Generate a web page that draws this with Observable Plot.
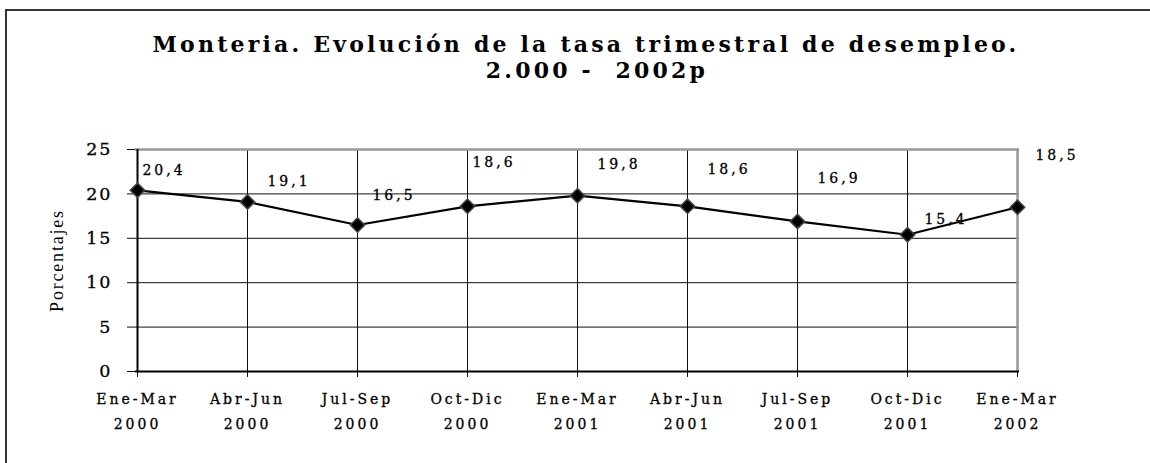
<!DOCTYPE html>
<html>
<head>
<meta charset="utf-8">
<script src="https://cdn.jsdelivr.net/npm/d3@7"></script>
<script src="https://cdn.jsdelivr.net/npm/@observablehq/plot@0.6"></script>
<style>
  html, body { margin: 0; padding: 0; background: #fff; width: 1150px; height: 463px; overflow: hidden; }
  #frame { position: absolute; left: 5px; top: 9px; width: 2000px; height: 1000px; border-top: 2px solid #333; border-left: 2px solid #333; }
  #title { position: absolute; left: 0; top: 31px; width: 1172px; text-align: center; font-family: "DejaVu Serif", serif; font-weight: bold; font-size: 22px; letter-spacing: 3.2px; line-height: 26px; color: #000; }
  #title .l2 { position: relative; left: 11px; }
  #chart { position: absolute; left: 0; top: 100px; }
  #chart svg text { letter-spacing: 3px; stroke: #000; stroke-width: 0.3px; }
  #chart svg g[aria-label="y-axis tick label"] text { letter-spacing: 2px; }
</style>
</head>
<body>
<div id="frame"></div>
<div id="title">Monteria. Evolución de la tasa trimestral de desempleo.<br><span class="l2">2.000 -&nbsp; 2002p</span></div>
<div id="chart"></div>
<script>
// Data
const quarters = ["Ene-Mar", "Abr-Jun", "Jul-Sep", "Oct-Dic", "Ene-Mar", "Abr-Jun", "Jul-Sep", "Oct-Dic", "Ene-Mar"];
const years = ["2000", "2000", "2000", "2000", "2001", "2001", "2001", "2001", "2002"];
const rates = [20.4, 19.1, 16.5, 18.6, 19.8, 18.6, 16.9, 15.4, 18.5];
const yTicks = [0, 5, 10, 15, 20, 25];

const categories = quarters.map((q, i) => q + "\n" + years[i]);
const data = categories.map((c, i) => ({cat: c, value: rates[i], label: String(rates[i]).replace(".", ",")}));

// label placement relative to each marker (pixels)
const labelOffsets = [[25, -20], [40, -20], [35, -29], [25, -44], [40, -31], [40, -37], [40, -43], [37, -15], [38, -52]];

const serif = "DejaVu Serif, serif";

const labelMarks = data.map((d, i) => Plot.text([d], {
  x: "cat", y: "value", text: "label",
  dx: labelOffsets[i][0] + 1.5, dy: labelOffsets[i][1],
  fontSize: 14, fontFamily: serif, fill: "#000"
}));

const chart = Plot.plot({
  width: 1150,
  height: 363,
  marginLeft: 135,
  marginRight: 131,
  marginTop: 49,
  marginBottom: 92,
  style: {background: "transparent", color: "#000", fontFamily: serif},
  x: {type: "point", domain: categories, padding: 0},
  y: {domain: [0, 25]},
  marks: [
    // horizontal gridlines
    Plot.ruleY([5, 10, 15, 20], {stroke: "#111", strokeWidth: 1}),
    // vertical gridlines
    Plot.ruleX(categories.slice(1, -1), {y1: 0, y2: 25, stroke: "#111", strokeWidth: 1}),
    // top & right plot-area border
    Plot.ruleY([25], {stroke: "#999", strokeWidth: 2.5}),
    Plot.ruleX(categories.slice(-1), {y1: 0, y2: 25, stroke: "#999", strokeWidth: 2.5}),
    // axes
    Plot.axisY({ticks: yTicks, tickSize: 8, tickPadding: 15, fontSize: 17.5, tickFormat: d => String(d), label: null, stroke: "#111"}),
    Plot.axisX({tickSize: 6, tickPadding: 9, fontSize: 14, lineHeight: 1.78, label: null, stroke: "#111"}),
    Plot.ruleX(categories.slice(0, 1), {y1: 0, y2: 25, stroke: "#000", strokeWidth: 2}),
    Plot.ruleY([0], {stroke: "#000", strokeWidth: 2}),
    // axis title
    Plot.text(["Porcentajes"], {frameAnchor: "left", textAnchor: "middle", dx: -78, rotate: -90, fontSize: 18, fontFamily: "Liberation Serif, serif", fill: "#000"}),
    // series
    Plot.line(data, {x: "cat", y: "value", stroke: "#000", strokeWidth: 2.2}),
    Plot.dot(data, {x: "cat", y: "value", symbol: "diamond2", r: 6.5, fill: "#000", stroke: "#444", strokeWidth: 1.5}),
    ...labelMarks
  ]
});

document.getElementById("chart").appendChild(chart);
d3.select(chart).selectAll("text")
  .filter(function() { return this.textContent === "Porcentajes"; })
  .style("letter-spacing", "1.8px").style("stroke", "none");
</script>
</body>
</html>
